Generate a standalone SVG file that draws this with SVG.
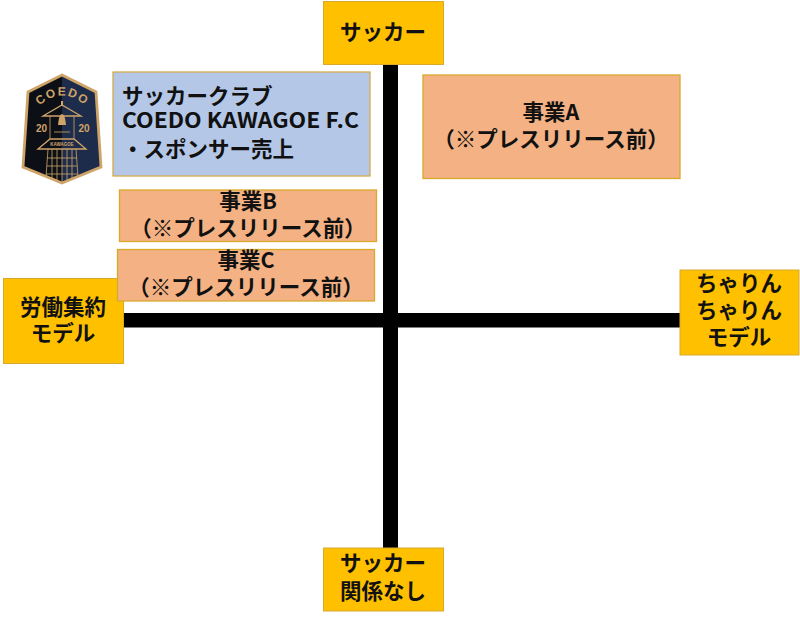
<svg xmlns="http://www.w3.org/2000/svg" width="800" height="619" viewBox="0 0 800 619">
<style>
text{font-family:"Noto Sans CJK JP","Liberation Sans",sans-serif;font-weight:700;fill:#111;font-size:21.500px;text-anchor:middle}
.y{fill:#ffc000;stroke:#d9a92c;stroke-width:1}
.o{fill:#f4b183;stroke:#d9a92c;stroke-width:1.300}
.b{fill:#b4c7e7;stroke:#d3ad4a;stroke-width:1.300}
.g{fill:none;stroke:#cfa468}
.gf{fill:#cfa468}
text.gt{font-family:"Liberation Sans",sans-serif;fill:#cfa468}
</style>
<defs><path id="arc" d="M38 107Q62 84 87 107"/></defs>
<rect width="800" height="619" fill="#fff"/>
<g id="connectors">
<rect x="383" y="64" width="15" height="484" fill="#000"/>
<rect x="123" y="313" width="557" height="14.500" fill="#000"/>
</g>
<g id="n-soccer"><rect class="y" x="323.500" y="1.500" width="120" height="63"/><text x="383" y="39.500">サッカー</text></g>
<g id="n-none"><rect class="y" x="323.500" y="548" width="120" height="63"/><text x="383" y="571">サッカー</text><text x="383" y="599">関係なし</text></g>
<g id="n-labor"><rect class="y" x="3.500" y="278.500" width="120" height="85"/><text x="63" y="315">労働集約</text><text x="63" y="341">モデル</text></g>
<g id="n-chain"><rect class="y" x="680" y="270" width="119" height="85"/><text x="739" y="291">ちゃりん</text><text x="739" y="318">ちゃりん</text><text x="739" y="345">モデル</text></g>
<g id="n-club"><rect class="b" x="113" y="72" width="257" height="104"/>
<text x="122" y="104" style="text-anchor:start">サッカークラブ</text>
<text x="122" y="128" textLength="237" lengthAdjust="spacingAndGlyphs" style="text-anchor:start">COEDO KAWAGOE F.C</text>
<text x="122" y="157" style="text-anchor:start">・スポンサー売上</text></g>
<g id="n-a"><rect class="o" x="423" y="75" width="257" height="103.500"/><text x="551" y="120">事業A</text><text x="551" y="147">（※プレスリリース前）</text></g>
<g id="n-b"><rect class="o" x="119.500" y="190" width="257" height="51.500"/><text x="248" y="209">事業B</text><text x="248" y="235.500">（※プレスリリース前）</text></g>
<g id="n-c"><rect class="o" x="117.500" y="249.500" width="257" height="51.500"/><text x="246" y="268">事業C</text><text x="246" y="295">（※プレスリリース前）</text></g>
<g id="logo">
<path d="M62 75L96 92L101 167L62 183L23 167L28 92Z" fill="#0d0f17"/>
<path d="M62 75L96 92L101 167L62 183Z" fill="#1d2c4a"/>
<path d="M62 75L96 92L101 167L62 183L23 167L28 92Z" class="g" stroke-width="2.800"/>
<text class="gt" style="font-size:12px;letter-spacing:1.500px"><textPath href="#arc" startOffset="50%">COEDO</textPath></text>
<path d="M43 116L62 105L81 116ZM38 149L50 139H74L86 149Z" class="g" stroke-width="1.300"/>
<path d="M50 116V139M74 116V139M54 132H70M48 149L46 177M76 149L78 177M52 149V179M57 149V181M62 149V183M67 149V181M72 149V179M47 158H77M47 166H77M46 174H78" class="g" stroke-width="0.800"/>
<path d="M62 101V106" class="g" stroke-width="2"/>
<path d="M58 125Q59 114 62 114Q65 114 66 125Z" class="gf"/>
<text class="gt" x="41.500" y="132" style="font-size:10px">20</text>
<text class="gt" x="84" y="132" style="font-size:10px">20</text>
<text class="gt" x="62" y="146" style="font-size:4.500px">KAWAGOE</text>
</g>
</svg>
